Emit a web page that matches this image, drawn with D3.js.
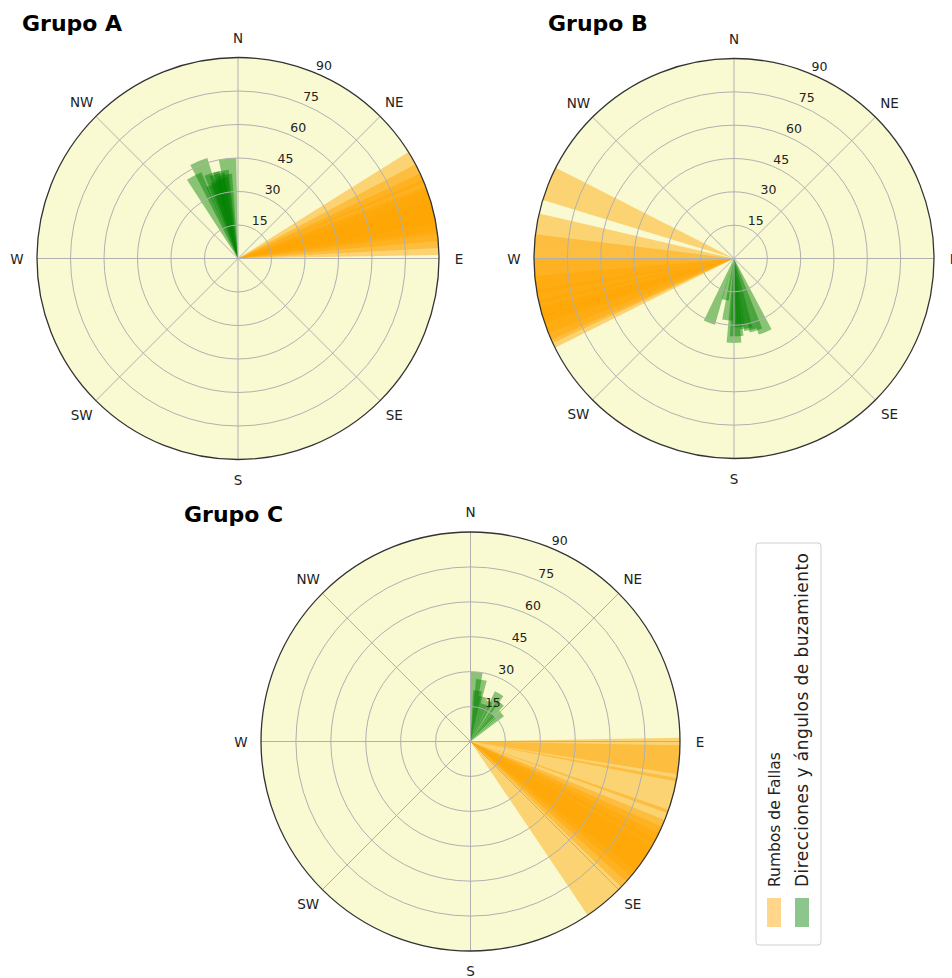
<!DOCTYPE html>
<html>
<head>
<meta charset="utf-8">
<script src="https://cdn.jsdelivr.net/npm/d3@7"></script>
<style>
  html, body { margin: 0; padding: 0; background: #ffffff; }
  svg { display: block; }
</style>
</head>
<body>
<svg id="chart" width="952" height="978"></svg>
<script>
// ---------------- DATA ----------------
const groupNames = ["Grupo A", "Grupo B", "Grupo C"];

// Fault strikes (degrees, clockwise from N) – drawn as full-radius wedges
const strikesA = [63, 67, 70, 72, 74, 75, 77, 78, 80, 82, 84];
const strikesB = [292, 278, 272, 268, 265, 262, 260, 258, 256, 253, 251, 250, 248.5];
const strikesC = [94, 96, 105, 114, 117, 119, 121, 123, 125, 127, 129, 131, 141];

// Dip directions (degrees) and dip angles (degrees)
const dipDirA = [354, 338, 332, 343, 346, 349, 351, 345, 348, 341];
const dipA    = [45, 47, 42, 40, 39, 40, 38, 36, 37, 35];
const dipDirB = [201, 192, 180, 157, 163, 167, 170, 173, 176, 178, 186];
const dipB    = [31, 19, 38, 36, 34, 33, 32, 30, 31, 35, 28];
const dipDirC = [5, 10, 31, 48, 15, 20, 25, 38, 8, 42];
const dipC    = [30, 27, 24, 18, 20, 17, 19, 21, 22, 15];

const radialTicks = [15, 30, 45, 60, 75, 90];
const compassLabels = ["N", "NE", "E", "SE", "S", "SW", "W", "NW"];
const compassAngles = [0, 45, 90, 135, 180, 225, 270, 315];
const legendLabels = ["Rumbos de Fallas", "Direcciones y ángulos de buzamiento"];

// ---------------- LAYOUT / STYLE ----------------
const layout = [
  { cx: 238,   cy: 258.5, r: 201,   tx: 22,  ty: 31 },
  { cx: 734,   cy: 258.5, r: 200,   tx: 548, ty: 31 },
  { cx: 470.5, cy: 741.5, r: 209.5, tx: 184, ty: 522 }
];
const strikes = [strikesA, strikesB, strikesC];
const dipDirs = [dipDirA, dipDirB, dipDirC];
const dips = [dipA, dipB, dipC];

const BAR_WIDTH = 10;           // angular width in degrees
const ORANGE = "#FFA500", GREEN = "#008000", ALPHA = 0.45;
const BG = "#FAFAD2";

const svg = d3.select("#chart");
const ang = d3.scaleLinear().domain([0, 360]).range([0, 2 * Math.PI]);

groupNames.forEach((name, gi) => {
  const L = layout[gi];
  const rad = d3.scaleLinear().domain([0, 90]).range([0, L.r]);
  const g = svg.append("g").attr("transform", `translate(${L.cx},${L.cy})`);

  g.append("circle").attr("r", L.r).attr("fill", BG);

  const arc = d3.arc().innerRadius(0);

  g.append("g").selectAll("path").data(strikes[gi]).join("path")
    .attr("d", d => arc({ outerRadius: rad(90),
                          startAngle: ang(d - BAR_WIDTH / 2),
                          endAngle: ang(d + BAR_WIDTH / 2) }))
    .attr("fill", ORANGE).attr("fill-opacity", ALPHA);

  g.append("g").selectAll("path").data(dipDirs[gi].map((d, i) => [d, dips[gi][i]])).join("path")
    .attr("d", d => arc({ outerRadius: rad(d[1]),
                          startAngle: ang(d[0] - BAR_WIDTH / 2),
                          endAngle: ang(d[0] + BAR_WIDTH / 2) }))
    .attr("fill", GREEN).attr("fill-opacity", ALPHA);

  g.append("g").selectAll("circle").data(radialTicks.slice(0, -1)).join("circle")
    .attr("r", d => rad(d)).attr("fill", "none")
    .attr("stroke", "#b0b0b0").attr("stroke-width", 1);
  g.append("g").selectAll("line").data(compassAngles).join("line")
    .attr("x1", 0).attr("y1", 0)
    .attr("x2", d => rad(90) * Math.sin(ang(d)))
    .attr("y2", d => -rad(90) * Math.cos(ang(d)))
    .attr("stroke", "#b0b0b0").attr("stroke-width", 1);

  g.append("circle").attr("r", L.r).attr("fill", "none")
    .attr("stroke", "#333").attr("stroke-width", 1.3);

  const la = ang(22.5);
  g.append("g").selectAll("text").data(radialTicks).join("text")
    .attr("x", d => rad(d) * Math.sin(la) + 9)
    .attr("y", d => -rad(d) * Math.cos(la) - 7)
    .attr("text-anchor", "middle").attr("dominant-baseline", "central")
    .attr("font-family", "DejaVu Sans").attr("font-size", 12.5)
    .attr("fill", "#222").text(d => d);

  g.append("g").selectAll("text").data(compassLabels).join("text")
    .attr("x", (d, i) => (L.r + 20) * Math.sin(ang(compassAngles[i])))
    .attr("y", (d, i) => -(L.r + 20) * Math.cos(ang(compassAngles[i])))
    .attr("text-anchor", "middle").attr("dominant-baseline", "central")
    .attr("font-family", "DejaVu Sans").attr("font-size", 13.5)
    .attr("fill", "#222").text(d => d);

  svg.append("text").attr("x", L.tx).attr("y", L.ty)
    .attr("font-family", "DejaVu Sans").attr("font-weight", "bold")
    .attr("font-size", 22).attr("fill", "#000").text(name);
});

// ---------------- LEGEND ----------------
const leg = svg.append("g");
leg.append("rect").attr("x", 756).attr("y", 543).attr("width", 65).attr("height", 402)
  .attr("rx", 3).attr("fill", "#fff").attr("stroke", "#d0d0d0").attr("stroke-width", 1);
const legColors = [ORANGE, GREEN];
const legSizes = [15.5, 17];
const legLengths = [null, 334];
legendLabels.forEach((lab, i) => {
  const x = 767 + i * 28;
  leg.append("rect").attr("x", x).attr("y", 898).attr("width", 14).attr("height", 29)
    .attr("fill", legColors[i]).attr("fill-opacity", ALPHA);
  const t = leg.append("text")
    .attr("transform", `translate(${x + 13},887) rotate(-90)`)
    .attr("font-family", "DejaVu Sans").attr("font-size", legSizes[i])
    .attr("fill", "#222").text(lab);
  if (legLengths[i]) t.attr("textLength", legLengths[i]).attr("lengthAdjust", "spacing");
});
</script>
</body>
</html>
